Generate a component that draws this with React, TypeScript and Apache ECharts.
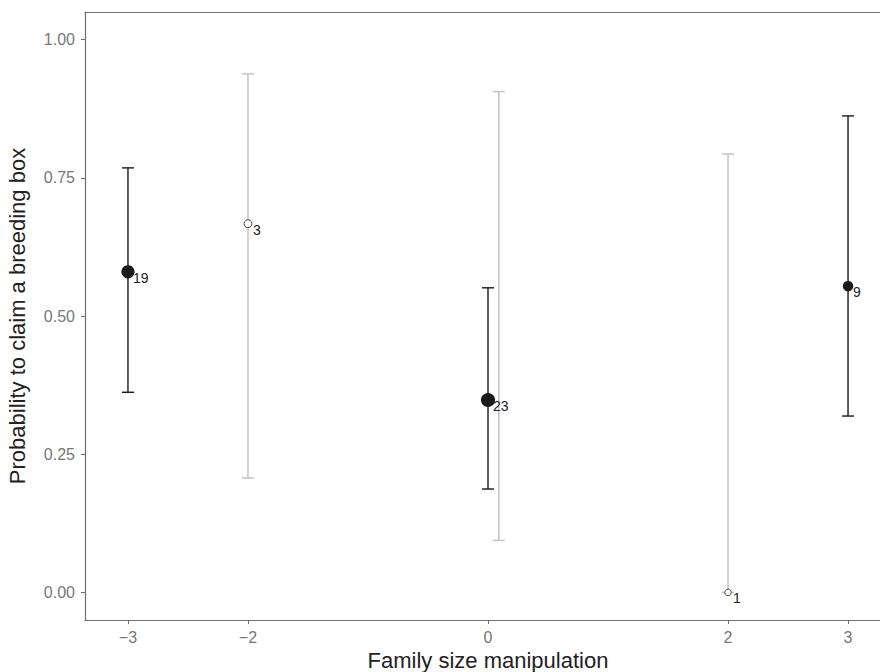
import React, { useEffect, useRef } from "react";
import * as echarts from "echarts";

// Family size manipulation (x), probability (y), 95% CI, sample size
const blackX = [-3, 0, 3];
const blackMean = [0.58, 0.348, 0.554];
const blackLo = [0.362, 0.187, 0.319];
const blackHi = [0.768, 0.551, 0.862];
const blackN = [19, 23, 9];

const greyX = [-2, 0.09, 2];
const greyMean: (number | null)[] = [0.667, null, 0];
const greyLo = [0.207, 0.094, 0];
const greyHi = [0.938, 0.906, 0.793];
const greyN: (number | null)[] = [3, null, 1];

const xTicks = [-3, -2, 0, 2, 3];
const yTicks = [0, 0.25, 0.5, 0.75, 1];

const FONT = "Liberation Sans, Arial, sans-serif";

function sizeOf(n: number) {
  return 4.5 + 2 * Math.sqrt(n);
}

function errorSeries(xs: number[], lo: number[], hi: number[], color: string, width: number, z: number) {
  return {
    type: "custom",
    z,
    silent: true,
    data: xs.map((x, i) => [x, lo[i], hi[i]]),
    encode: { x: 0, y: [1, 2] },
    renderItem: (params: any, api: any) => {
      const x = api.value(0);
      const a = api.coord([x, api.value(1)]);
      const b = api.coord([x, api.value(2)]);
      const hw = 6;
      const style = { stroke: color, lineWidth: width };
      return {
        type: "group",
        children: [
          { type: "line", shape: { x1: a[0], y1: a[1], x2: b[0], y2: b[1] }, style },
          { type: "line", shape: { x1: a[0] - hw, y1: a[1], x2: a[0] + hw, y2: a[1] }, style },
          { type: "line", shape: { x1: b[0] - hw, y1: b[1], x2: b[0] + hw, y2: b[1] }, style },
        ],
      };
    },
  };
}

function pointData(xs: number[], ms: (number | null)[], ns: (number | null)[]) {
  const out: any[] = [];
  xs.forEach((x, i) => {
    const m = ms[i];
    const n = ns[i];
    if (m === null || n === null) return;
    out.push({ value: [x, m, n], symbolSize: sizeOf(n) });
  });
  return out;
}

const pointLabel = {
  show: true,
  position: "inside",
  align: "left",
  verticalAlign: "middle",
  offset: [5, 6],
  fontSize: 14,
  fontFamily: FONT,
  color: "#222",
  textBorderWidth: 0,
  formatter: (p: any) => String(p.value[2]),
};

export default function App() {
  const ref = useRef<HTMLDivElement>(null);
  useEffect(() => {
    document.body.style.margin = "0";
    if (!ref.current) return;
    const chart = echarts.init(ref.current, undefined, { renderer: "svg" });
    const fmtX = (v: number) => (v < 0 ? "\u2212" + Math.abs(v) : String(v));
    chart.setOption({
      animation: false,
      backgroundColor: "#fff",
      grid: { left: 85, top: 12, width: 806, height: 608, outerBoundsMode: "none", containLabel: false },
      xAxis: [
        {
          type: "value",
          min: -3.358,
          max: 3.358,
          name: "Family size manipulation",
          nameLocation: "middle",
          nameGap: 29,
          nameTextStyle: { fontSize: 22, fontFamily: FONT, color: "#222" },
          axisLine: { show: true, onZero: false, lineStyle: { color: "#6e6e6e", width: 1.2 } },
          axisTick: { show: true, length: 4, customValues: xTicks, lineStyle: { color: "#6e6e6e" } },
          axisLabel: {
            customValues: xTicks,
            formatter: fmtX,
            fontSize: 16,
            fontFamily: FONT,
            color: "#777",
            margin: 9,
          },
          splitLine: { show: false },
        },
        {
          type: "value",
          position: "top",
          min: -3.358,
          max: 3.358,
          axisLine: { show: true, onZero: false, lineStyle: { color: "#6e6e6e", width: 1.2 } },
          axisTick: { show: false },
          axisLabel: { show: false },
          splitLine: { show: false },
        },
      ],
      yAxis: {
        type: "value",
        min: -0.05,
        max: 1.05,
        name: "Probability to claim a breeding box",
        nameLocation: "middle",
        nameGap: 57,
        nameTextStyle: { fontSize: 22, fontFamily: FONT, color: "#222" },
        axisLine: { show: true, onZero: false, lineStyle: { color: "#6e6e6e", width: 1.2 } },
        axisTick: { show: true, length: 4, customValues: yTicks, lineStyle: { color: "#6e6e6e" } },
        axisLabel: {
          customValues: yTicks,
          formatter: (v: number) => v.toFixed(2),
          fontSize: 16,
          fontFamily: FONT,
          color: "#777",
          margin: 10,
        },
        splitLine: { show: false },
      },
      series: [
        errorSeries(greyX, greyLo, greyHi, "#c4c4c4", 1.5, 1),
        errorSeries(blackX, blackLo, blackHi, "#1a1a1a", 1.4, 2),
        {
          type: "scatter",
          z: 3,
          data: pointData(greyX, greyMean, greyN),
          symbol: "circle",
          itemStyle: { color: "#fff", borderColor: "#444", borderWidth: 1, opacity: 1 },
          label: pointLabel,
        },
        {
          type: "scatter",
          z: 4,
          data: pointData(blackX, blackMean, blackN),
          symbol: "circle",
          itemStyle: { color: "#1a1a1a", opacity: 1 },
          label: pointLabel,
        },
      ],
    });
    return () => chart.dispose();
  }, []);
  return <div ref={ref} style={{ width: 880, height: 672 }} />;
}
